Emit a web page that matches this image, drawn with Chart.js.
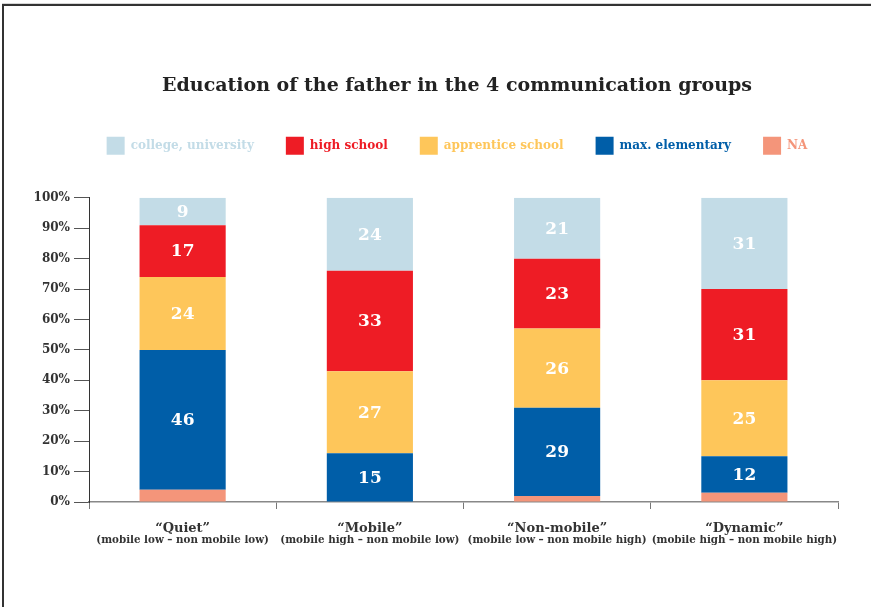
<!DOCTYPE html>
<html>
<head>
<meta charset="utf-8">
<script src="https://cdn.jsdelivr.net/npm/chart.js@4.4.1/dist/chart.umd.min.js"></script>
<style>
  html, body { margin: 0; padding: 0; background: #fff; }
  #wrap { position: relative; width: 871px; height: 607px; overflow: hidden; }
  #frame { position: absolute; left: 2px; top: 4px; right: -10px; bottom: -10px;
           border-top: 2px solid #333; border-left: 2px solid #333; box-shadow: 0 -1px 0 #d6d6d6; }
  canvas { position: absolute; left: 0; top: 0; }
</style>
</head>
<body>
<div id="wrap">
  <div id="frame"></div>
  <canvas id="eduChart" width="871" height="607"></canvas>
</div>
<script>
// categories
const groups = ['“Quiet”', '“Mobile”', '“Non-mobile”', '“Dynamic”'];
const groupNotes = [
    '(mobile low – non mobile low)',
    '(mobile high – non mobile low)',
    '(mobile low – non mobile high)',
    '(mobile high – non mobile high)'
];

// segment heights (% of group), bottom to top
const naShare = [4, 0, 2, 3];
const elementaryShare = [46, 16, 29, 12];
const apprenticeShare = [24, 27, 26, 25];
const highSchoolShare = [17, 33, 23, 30];
const collegeShare = [9, 24, 20, 30];

// numbers printed on the segments
const elementaryLabels = [46, 15, 29, 12];
const apprenticeLabels = [24, 27, 26, 25];
const highSchoolLabels = [17, 33, 23, 31];
const collegeLabels = [9, 24, 21, 31];

const yMax = 100;
const yStep = 10;

const serif = '"DejaVu Serif", "Liberation Serif", serif';

// extra space under the legend
const legendGap = {
    id: 'legendGap',
    beforeInit(chart) {
        const fit = chart.legend.fit;
        chart.legend.fit = function () {
            fit.call(this);
            this.height += 33;
        };
    }
};

// white numbers in the middle of each segment
const segmentLabels = {
    id: 'segmentLabels',
    afterDatasetsDraw(chart) {
        const ctx = chart.ctx;
        ctx.save();
        ctx.fillStyle = '#ffffff';
        ctx.font = 'bold 17px ' + serif;
        ctx.textAlign = 'center';
        ctx.textBaseline = 'middle';
        chart.data.datasets.forEach((ds, i) => {
            if (!ds.valueLabels) return;
            chart.getDatasetMeta(i).data.forEach((bar, j) => {
                const txt = ds.valueLabels[j];
                if (txt === null || txt === undefined) return;
                const p = bar.getProps(['x', 'y', 'base'], true);
                ctx.fillText(String(txt), p.x, (p.y + p.base) / 2 + 1);
            });
        });
        ctx.restore();
    }
};

const ctx = document.getElementById('eduChart').getContext('2d');
new Chart(ctx, {
    type: 'bar',
    data: {
        labels: groups,
        datasets: [
            { label: 'NA', data: naShare, backgroundColor: '#f4957a' },
            { label: 'max. elementary', data: elementaryShare, backgroundColor: '#005ea8', valueLabels: elementaryLabels },
            { label: 'apprentice school', data: apprenticeShare, backgroundColor: '#fec65a', valueLabels: apprenticeLabels },
            { label: 'high school', data: highSchoolShare, backgroundColor: '#ee1c25', valueLabels: highSchoolLabels },
            { label: 'college, university', data: collegeShare, backgroundColor: '#c3dce7', valueLabels: collegeLabels }
        ]
    },
    options: {
        responsive: false,
        animation: false,
        barPercentage: 0.46,
        categoryPercentage: 1,
        // negative right padding keeps title/legend centred like the original
        layout: { padding: { left: 30, right: -13, top: 0, bottom: 52 } },
        plugins: {
            title: {
                display: true,
                text: 'Education of the father in the 4 communication groups',
                color: '#222',
                font: { family: serif, size: 19, weight: 'bold', lineHeight: 1.2 },
                padding: { top: 75, bottom: 7 }
            },
            legend: {
                display: true,
                labels: {
                    boxWidth: 18,
                    boxHeight: 18,
                    padding: 32,
                    font: { family: serif, size: 12, weight: 'bold' },
                    sort: (a, b) => b.datasetIndex - a.datasetIndex,
                    generateLabels(chart) {
                        return chart.data.datasets.map((ds, i) => ({
                            text: ds.label,
                            fillStyle: ds.backgroundColor,
                            strokeStyle: ds.backgroundColor,
                            fontColor: ds.backgroundColor,
                            lineWidth: 0,
                            hidden: false,
                            datasetIndex: i
                        }));
                    }
                }
            },
            tooltip: { enabled: false }
        },
        scales: {
            x: {
                stacked: true,
                weight: 0,
                grid: { drawOnChartArea: false, tickLength: 7, color: '#777' },
                border: { color: '#888', width: 1.5 },
                ticks: { color: '#333', padding: 13, maxRotation: 0, autoSkip: false,
                         font: { family: serif, size: 13, weight: 'bold', lineHeight: 1 } },
                afterFit: (scale) => { scale.height = 33; }
            },
            x2: {
                type: 'category',
                labels: groupNotes,
                position: 'bottom',
                offset: true,
                weight: 1,
                grid: { display: false, drawTicks: false },
                border: { display: false },
                ticks: { color: '#333', padding: 0, maxRotation: 0, minRotation: 0, autoSkip: false,
                         font: { family: serif, size: 10.3, weight: 'bold', lineHeight: 1.1 } },
                afterFit: (scale) => { scale.height = 20; }
            },
            y: {
                stacked: true,
                min: 0,
                max: yMax,
                grid: { drawOnChartArea: false, tickLength: 15, color: '#555' },
                border: { color: '#333', width: 1 },
                ticks: {
                    stepSize: yStep,
                    padding: 4,
                    color: '#333',
                    font: { family: serif, size: 12, weight: 'bold' },
                    callback: (v) => v + '%'
                },
                afterFit: (scale) => { scale.width = 59; }
            },
            yPad: {
                position: 'right',
                grid: { display: false, drawTicks: false },
                border: { display: false },
                ticks: { display: false },
                afterFit: (scale) => { scale.width = 46; }
            }
        }
    },
    plugins: [legendGap, segmentLabels]
});
</script>
</body>
</html>
